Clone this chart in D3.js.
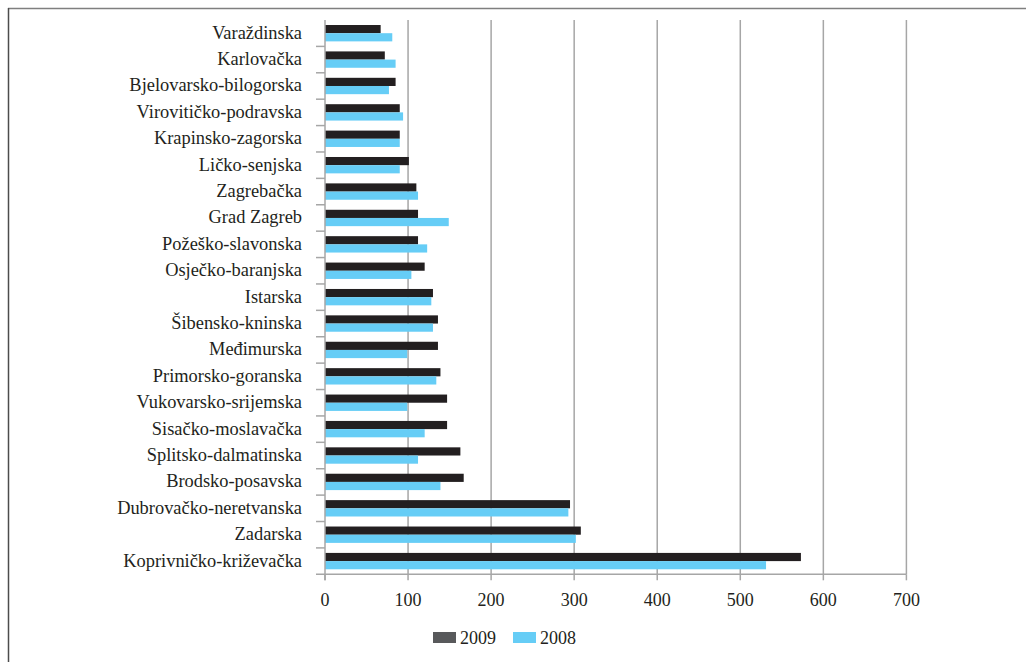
<!DOCTYPE html>
<html>
<head>
<meta charset="utf-8">
<script src="https://cdn.jsdelivr.net/npm/d3@7"></script>
<style>
  body { margin: 0; background: #fff; }
  svg { display: block; }
  text { font-family: "Liberation Serif", "Times New Roman", serif; fill: #231f20; }
</style>
</head>
<body>
<svg id="chart" width="1026" height="662"></svg>
<script>
const categories = [
  "Varaždinska", "Karlovačka", "Bjelovarsko-bilogorska", "Virovitičko-podravska",
  "Krapinsko-zagorska", "Ličko-senjska", "Zagrebačka", "Grad Zagreb",
  "Požeško-slavonska", "Osječko-baranjska", "Istarska", "Šibensko-kninska",
  "Međimurska", "Primorsko-goranska", "Vukovarsko-srijemska", "Sisačko-moslavačka",
  "Splitsko-dalmatinska", "Brodsko-posavska", "Dubrovačko-neretvanska", "Zadarska",
  "Koprivničko-križevačka"
];
const values2009 = [67, 72, 85, 90, 90, 101, 110, 112, 112, 120, 130, 136, 136, 139, 147, 147, 163, 167, 295, 308, 573];
const values2008 = [81, 85, 77, 94, 90, 90, 112, 149, 123, 104, 128, 130, 99, 134, 99, 120, 112, 139, 293, 302, 531];
const seriesNames = ["2009", "2008"];
const xTicks = [0, 100, 200, 300, 400, 500, 600, 700];

(function () {
const colors = { "2009": "#231f20", "2008": "#66cdf6" };
const legendColors = { "2009": "#58595b", "2008": "#66cdf6" };

const svg = d3.select("#chart");

// frame
svg.append("line").attr("x1", 8).attr("x2", 1026).attr("y1", 8.5).attr("y2", 8.5)
  .attr("stroke", "#7f7f7f").attr("stroke-width", 1.5);
svg.append("line").attr("x1", 8.5).attr("x2", 8.5).attr("y1", 8).attr("y2", 662)
  .attr("stroke", "#4d4d4d").attr("stroke-width", 1.5);

const pLeft = 325, pRight = 906.4, pTop = 20, pBottom = 574.3;
const x = d3.scaleLinear().domain([0, 700]).range([pLeft, pRight]);
const y = d3.scaleBand().domain(categories).range([pTop, pBottom]).paddingInner(0.38).paddingOuter(0.19);
const ySub = d3.scaleBand().domain(seriesNames).range([0, y.bandwidth()]);

// gridlines
svg.append("g").selectAll("line").data(xTicks.slice(1)).join("line")
  .attr("x1", d => x(d)).attr("x2", d => x(d))
  .attr("y1", pTop).attr("y2", pBottom)
  .attr("stroke", "#a6a6a6").attr("stroke-width", 1.5);

// bars
const data = categories.map((c, i) => ({ c, v: { "2009": values2009[i], "2008": values2008[i] } }));
const groups = svg.append("g").selectAll("g").data(data).join("g")
  .attr("transform", d => `translate(0,${y(d.c)})`);
groups.selectAll("rect").data(d => seriesNames.map(s => ({ s, v: d.v[s] }))).join("rect")
  .attr("x", x(0))
  .attr("y", d => ySub(d.s))
  .attr("width", d => x(d.v) - x(0))
  .attr("height", ySub.bandwidth())
  .attr("fill", d => colors[d.s]);

// y axis line and ticks at band boundaries
const yAxisG = svg.append("g");
yAxisG.append("line").attr("x1", pLeft).attr("x2", pLeft).attr("y1", pTop).attr("y2", pBottom + 6)
  .attr("stroke", "#a6a6a6").attr("stroke-width", 1.5);
const boundaries = d3.range(categories.length).map(i => pTop + i * (pBottom - pTop) / categories.length);
yAxisG.selectAll("line.t").data(boundaries.slice(1)).join("line").attr("class", "t")
  .attr("x1", pLeft - 9).attr("x2", pLeft).attr("y1", d => d).attr("y2", d => d)
  .attr("stroke", "#a6a6a6").attr("stroke-width", 1.5);
yAxisG.selectAll("text").data(categories).join("text")
  .attr("x", 302).attr("y", d => y(d) + y.bandwidth() / 2 + 5.5)
  .attr("text-anchor", "end").attr("font-size", 18.4).text(d => d);

// x axis
const xAxisG = svg.append("g").attr("transform", `translate(0,${pBottom})`);
xAxisG.append("line").attr("x1", pLeft - 9).attr("x2", pRight).attr("y1", 0).attr("y2", 0)
  .attr("stroke", "#a6a6a6").attr("stroke-width", 1.5);
xAxisG.selectAll("line.t").data(xTicks).join("line").attr("class", "t")
  .attr("x1", d => x(d)).attr("x2", d => x(d)).attr("y1", 0).attr("y2", 6)
  .attr("stroke", "#a6a6a6").attr("stroke-width", 1.5);
xAxisG.selectAll("text").data(xTicks).join("text")
  .attr("x", d => x(d)).attr("y", 32)
  .attr("text-anchor", "middle").attr("font-size", 18).text(d => d);

// legend
const legend = svg.append("g");
const legendItems = [{ s: "2009", x: 433 }, { s: "2008", x: 513 }];
legend.selectAll("rect").data(legendItems).join("rect")
  .attr("x", d => d.x).attr("y", 632).attr("width", 23).attr("height", 11)
  .attr("fill", d => legendColors[d.s]);
legend.selectAll("text").data(legendItems).join("text")
  .attr("x", d => d.x + 27).attr("y", 643.5).attr("font-size", 18).text(d => d.s);
})();
</script>
</body>
</html>
